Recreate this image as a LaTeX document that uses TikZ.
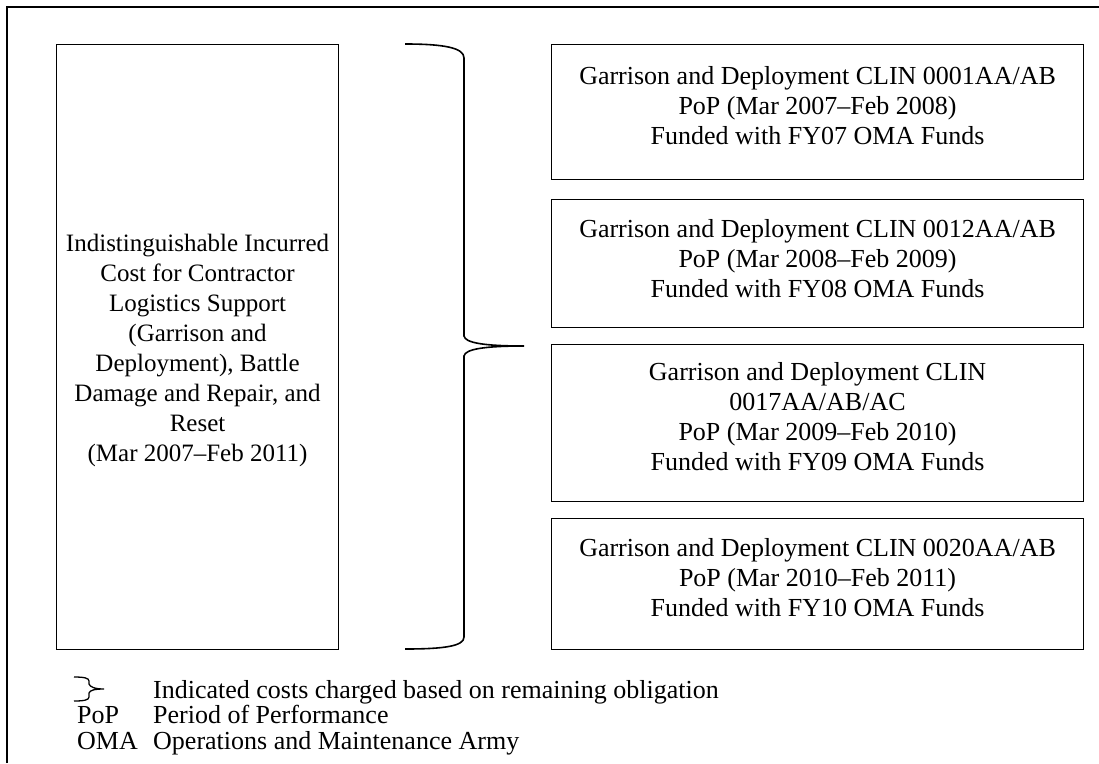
\documentclass[tikz,border=0pt]{standalone}
\usepackage{fontspec}
\setmainfont{Liberation Serif}
\begin{document}
\begin{tikzpicture}[x=1pt,y=-1pt,
  box/.style={draw, line width=1.1pt, inner sep=0pt, anchor=north west},
  txt/.style={font=\fontsize{26}{30}\selectfont, align=center, inner sep=0pt},
  ltxt/.style={font=\fontsize{25}{30}\selectfont, align=center, inner sep=0pt},
  legtxt/.style={font=\fontsize{26}{30}\selectfont, inner sep=0pt, anchor=base west},
  bracepen/.style={line width=1.6pt}]
\useasboundingbox (0,0) rectangle (1099,763);
% outer frame (cut off at right and bottom)
\draw[line width=2pt] (7,763) -- (7,7) -- (1099,7);
% left box
\node[box, minimum width=282pt, minimum height=605pt] (L) at (56,44) {};
\node[ltxt, yshift=-3pt] (Lt) at (L.center) {Indistinguishable Incurred\\Cost for Contractor\\Logistics Support\\(Garrison and\\Deployment), Battle\\Damage and Repair, and\\Reset\\(Mar 2007--Feb 2011)};
% right boxes
\node[box, minimum width=532pt, minimum height=135pt] (B1) at (551,44) {};
\node[box, minimum width=532pt, minimum height=128pt] (B2) at (551,199) {};
\node[box, minimum width=532pt, minimum height=157pt] (B3) at (551,344) {};
\node[box, minimum width=532pt, minimum height=131pt] (B4) at (551,518) {};
\node[txt, yshift=6pt] (T1) at (B1.center) {Garrison and Deployment CLIN 0001AA/AB\\PoP (Mar 2007--Feb 2008)\\Funded with FY07 OMA Funds};
\node[txt, yshift=5pt] (T2) at (B2.center) {Garrison and Deployment CLIN 0012AA/AB\\PoP (Mar 2008--Feb 2009)\\Funded with FY08 OMA Funds};
\node[txt, yshift=6pt] (T3) at (B3.center) {Garrison and Deployment CLIN\\0017AA/AB/AC\\PoP (Mar 2009--Feb 2010)\\Funded with FY09 OMA Funds};
\node[txt, yshift=6pt] (T4) at (B4.center) {Garrison and Deployment CLIN 0020AA/AB\\PoP (Mar 2010--Feb 2011)\\Funded with FY10 OMA Funds};
% big brace
\coordinate (tip) at (524,346);
\draw[bracepen] (405,44) .. controls (445,44) and (464,48) .. (464,58) -- (464,336)
  .. controls (465,343) and (485,346) .. (tip)
  .. controls (485,346) and (465,349) .. (464,356) -- (464,637)
  .. controls (464,646) and (445,649) .. (405,649);
% legend
\coordinate (ltip) at (104,689);
\draw[line width=1.3pt] (74,677) .. controls (84,677) and (89,678) .. (89,681) -- (89,684)
  .. controls (90,687) and (95,689) .. (ltip)
  .. controls (95,689) and (90,690) .. (89,693) -- (89,697)
  .. controls (89,700) and (84,701) .. (74,701);
\node[legtxt] (l1) at (153,698) {Indicated costs charged based on remaining obligation};
\node[legtxt] (a2) at (77,723) {PoP};
\node[legtxt] (l2) at (153,723) {Period of Performance};
\node[legtxt] (a3) at (77,749) {OMA};
\node[legtxt] (l3) at (153,749) {Operations and Maintenance Army};
\end{tikzpicture}
\end{document}
